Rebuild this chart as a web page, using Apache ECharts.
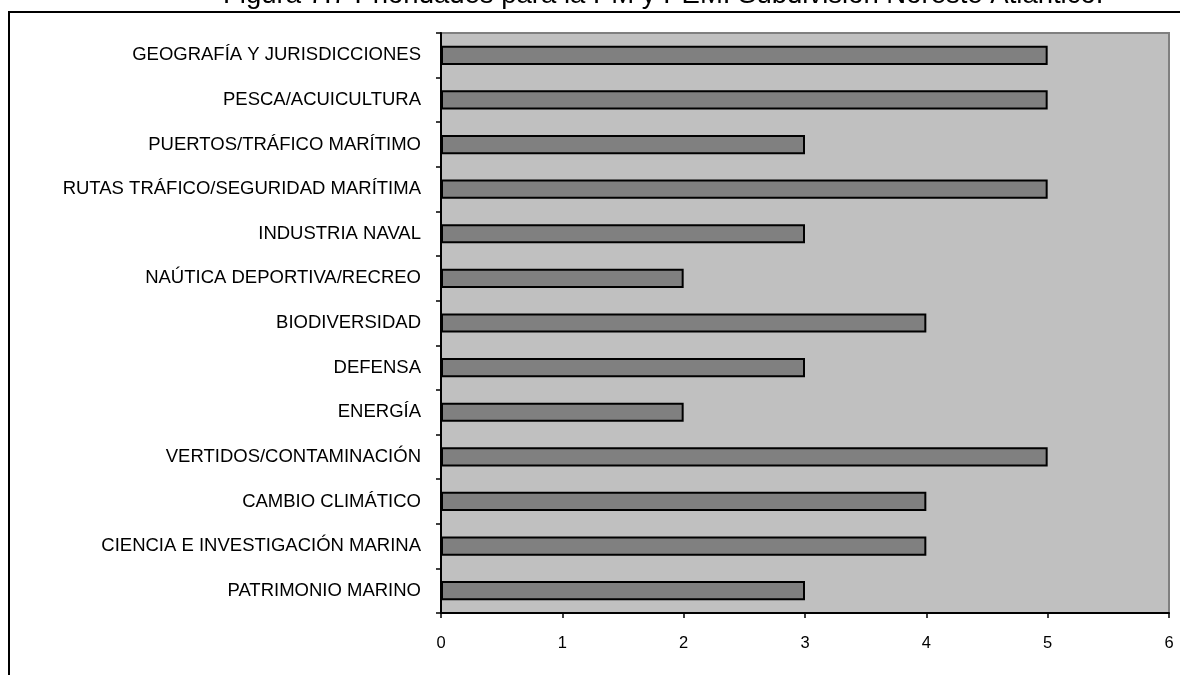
<!DOCTYPE html>
<html>
<head>
<meta charset="utf-8">
<script src="https://cdn.jsdelivr.net/npm/echarts@6/dist/echarts.min.js"></script>
<style>html,body{margin:0;padding:0;background:#fff;}#c{width:1180px;height:675px;}</style>
</head>
<body>
<div id="c"></div>
<script>
const titleText = 'Figura 7.7 Prioridades para la PM y PEM. Subdivisión Noreste Atlántico.';
const categories = [
  'GEOGRAFÍA Y JURISDICCIONES',
  'PESCA/ACUICULTURA',
  'PUERTOS/TRÁFICO MARÍTIMO',
  'RUTAS TRÁFICO/SEGURIDAD MARÍTIMA',
  'INDUSTRIA NAVAL',
  'NAÚTICA DEPORTIVA/RECREO',
  'BIODIVERSIDAD',
  'DEFENSA',
  'ENERGÍA',
  'VERTIDOS/CONTAMINACIÓN',
  'CAMBIO CLIMÁTICO',
  'CIENCIA E INVESTIGACIÓN MARINA',
  'PATRIMONIO MARINO'
];
const values = [5, 5, 3, 5, 3, 2, 4, 3, 2, 5, 4, 4, 3];
const xTicks = [0, 1, 2, 3, 4, 5, 6];

const chart = echarts.init(document.getElementById('c'), null, {renderer: 'canvas'});
chart.setOption({
  animation: false,
  backgroundColor: '#ffffff',
  title: {
    text: titleText,
    left: 218,
    top: -24,
    textStyle: {fontFamily: 'Liberation Sans, Arial', fontSize: 27.5, fontWeight: 'normal', color: '#000'}
  },
  graphic: [{
    type: 'rect',
    shape: {x: 9, y: 12, width: 1200, height: 700},
    style: {fill: 'none', stroke: '#000', lineWidth: 2},
    silent: true,
    z: 0
  }],
  grid: {
    left: 441, right: 11, top: 33, bottom: 62,
    show: true,
    backgroundColor: '#C0C0C0',
    borderColor: '#808080',
    borderWidth: 2,
    containLabel: false
  },
  xAxis: {
    type: 'value',
    min: xTicks[0], max: xTicks[xTicks.length - 1], interval: 1,
    axisLine: {show: true, lineStyle: {color: '#000', width: 2}},
    axisTick: {show: true, length: 5, lineStyle: {color: '#000', width: 1.5}},
    splitLine: {show: false},
    axisLabel: {margin: 22, fontFamily: 'Liberation Sans, Arial', fontSize: 16.5, color: '#000'}
  },
  yAxis: {
    type: 'category',
    data: categories,
    inverse: true,
    axisLine: {show: true, lineStyle: {color: '#000', width: 2}},
    axisTick: {show: true, length: 5, lineStyle: {color: '#000', width: 1.5}},
    splitLine: {show: false},
    axisLabel: {margin: 20, fontFamily: 'Liberation Sans, Arial', fontSize: 18.5, color: '#000'}
  },
  series: [{
    type: 'bar',
    data: values,
    barWidth: '43%',
    itemStyle: {color: '#808080', borderColor: '#000', borderWidth: 2},
    z: 3
  }]
});
</script>
</body>
</html>
